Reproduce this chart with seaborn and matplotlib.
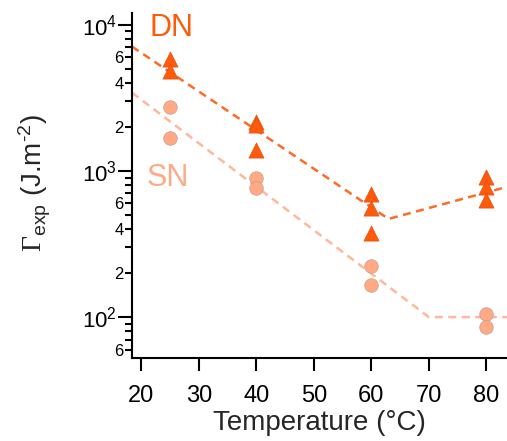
import numpy as np
import pandas as pd
import matplotlib
matplotlib.use("Agg")
import matplotlib.pyplot as plt
import matplotlib.ticker as mticker
import seaborn as sns

# --------------- measured points --------------- #
dn_temp = [25, 25, 40, 40, 40, 60, 60, 60, 80, 80, 80]
dn_gamma = [5800, 4800, 2170, 2060, 1390, 695, 558, 376, 910, 777, 632]
sn_temp = [25, 25, 40, 40, 60, 60, 80, 80]
sn_gamma = [2745, 1683, 896, 765, 223, 166, 105, 86]

# --------------- guide lines --------------- #
dn_fit_temp = [18.4, 63, 83.6]
dn_fit_gamma = [7070, 469, 777]
sn_fit_temp = [18.4, 70, 83.6]
sn_fit_gamma = [3420, 100, 100]

DN_COLOR = "#FF5A0A"
SN_COLOR = "#FFAA85"
DN_LINE = "#FF6A26"
SN_LINE = "#FFB899"

sns.set_style("ticks")
plt.rcParams["font.family"] = ["Liberation Sans", "DejaVu Sans"]
plt.rcParams["mathtext.fontset"] = "custom"
plt.rcParams["mathtext.rm"] = "Liberation Sans"
plt.rcParams["mathtext.sf"] = "Liberation Sans"
plt.rcParams["mathtext.it"] = "Liberation Sans:italic"
plt.rcParams["mathtext.tt"] = "Liberation Serif"

fig = plt.figure(figsize=(5.07, 4.41), dpi=100)
ax = fig.add_axes([0.2604, 0.1882, 0.7396, 0.7823])

dn = pd.DataFrame({"T": dn_temp, "G": dn_gamma})
sn = pd.DataFrame({"T": sn_temp, "G": sn_gamma})

sns.lineplot(x=dn_fit_temp, y=dn_fit_gamma, color=DN_LINE, lw=1.8,
             dashes=False, linestyle=(0, (3.2, 2.2)), estimator=None,
             sort=False, ax=ax)
sns.lineplot(x=sn_fit_temp, y=sn_fit_gamma, color=SN_LINE, lw=1.8,
             dashes=False, linestyle=(0, (3.2, 2.2)), estimator=None,
             sort=False, ax=ax)
sns.scatterplot(data=dn, x="T", y="G", marker="^", s=120, color=DN_COLOR,
                edgecolor="#d94a10", linewidth=0.4, ax=ax, zorder=3)
sns.scatterplot(data=sn, x="T", y="G", marker="o", s=95, color=SN_COLOR,
                edgecolor="#c99a88", linewidth=0.5, ax=ax, zorder=3)

ax.set_yscale("log")
ax.set_xlim(18.4, 83.6)
ax.set_ylim(52.5, 12000)

ax.set_xticks([20, 30, 40, 50, 60, 70, 80])
ax.yaxis.set_major_locator(mticker.LogLocator(base=10, numticks=10))
ax.yaxis.set_major_formatter(mticker.FuncFormatter(
    lambda v, p: "10$^{%d}$" % round(np.log10(v))))
ax.yaxis.set_minor_locator(mticker.LogLocator(base=10, subs=np.arange(2, 10), numticks=10))


def minor_fmt(v, p):
    lead = int(round(v / 10 ** np.floor(np.log10(v) + 1e-9)))
    return str(lead) if lead in (2, 4, 6) else ""


ax.yaxis.set_minor_formatter(mticker.FuncFormatter(minor_fmt))

for s in ["top", "right"]:
    ax.spines[s].set_visible(False)
for s in ["left", "bottom"]:
    ax.spines[s].set_linewidth(1.5)
    ax.spines[s].set_color("black")

ax.tick_params(axis="x", which="major", direction="out", length=9.5, width=1.5,
               labelsize=17, pad=10, colors="black")
ax.tick_params(axis="y", which="major", direction="out", length=10, width=1.5,
               labelsize=16, pad=1, colors="black")
ax.tick_params(axis="y", which="minor", direction="out", length=5, width=1.5,
               labelsize=12, pad=1, colors="black")

ax.set_xlabel("Temperature (°C)", fontsize=20, labelpad=2)
ax.set_ylabel(r"$\mathtt{\Gamma}_{\mathrm{exp}}$ (J.m$^{\text{-2}}$)", fontsize=20)
ax.yaxis.set_label_coords(-0.21, 0.506)

ax.text(25.3, 9460, "DN", color=DN_COLOR, fontsize=22, ha="center", va="center")
ax.text(24.6, 900, "SN", color=SN_COLOR, fontsize=22, ha="center", va="center")

fig.savefig("out.png", dpi=100)
